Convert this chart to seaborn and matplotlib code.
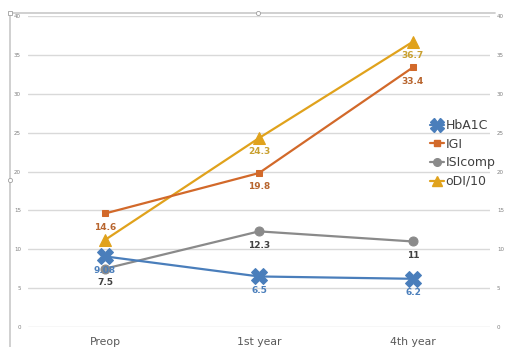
import matplotlib
matplotlib.use("Agg")
import matplotlib.pyplot as plt
from matplotlib.lines import Line2D
import seaborn as sns
import pandas as pd

categories = ["Preop", "1st year", "4th year"]
hba1c = [9.08, 6.5, 6.2]
igi = [14.6, 19.8, 33.4]
isicomp = [7.5, 12.3, 11]
odi10 = [11.2, 24.3, 36.7]
series_names = ["HbA1C", "IGI", "ISIcomp", "oDI/10"]
yticks = [0, 5, 10, 15, 20, 25, 30, 35, 40]

values = {"HbA1C": hba1c, "IGI": igi, "ISIcomp": isicomp, "oDI/10": odi10}
rows = []
for name in series_names:
    for i, c in enumerate(categories):
        rows.append({"series": name, "cat": c, "pos": i, "value": values[name][i]})
df = pd.DataFrame(rows)

sns.set_theme(style="white")
plt.rcParams['font.family'] = ['DejaVu Sans']

colors = {"HbA1C": "#4A7EBB", "IGI": "#D2692A", "ISIcomp": "#8A8A8A", "oDI/10": "#E0A21C"}
label_colors = {"HbA1C": "#4A7EBB", "IGI": "#B8652E", "ISIcomp": "#404040", "oDI/10": "#C9A030"}
markers = {"HbA1C": "X", "IGI": "s", "ISIcomp": "o", "oDI/10": "^"}
msizes = {"HbA1C": 11, "IGI": 5, "ISIcomp": 6.5, "oDI/10": 8.5}
leg_msizes = {"HbA1C": 9.5, "IGI": 4.5, "ISIcomp": 5.5, "oDI/10": 6.5}
show_label = {"HbA1C": [True, True, True], "IGI": [True, True, True],
              "ISIcomp": [True, True, True], "oDI/10": [False, True, True]}

W, H = 505, 347
fig = plt.figure(figsize=(W / 100, H / 100), dpi=100)
fig.patch.set_facecolor("white")
ax = fig.add_axes([28 / W, (H - 327) / H, (490 - 28) / W, (327 - 16) / H])

draw_order = ["ISIcomp", "oDI/10", "IGI", "HbA1C"]
for name in draw_order:
    sub = df[df.series == name]
    sns.lineplot(data=sub, x="pos", y="value", ax=ax, color=colors[name],
                 marker=markers[name], markersize=msizes[name], linewidth=1.6,
                 markeredgecolor=colors[name], sort=False, legend=False, zorder=3)
    for i, v in enumerate(values[name]):
        if show_label[name][i]:
            ax.annotate(f"{v:g}", xy=(i, v), xytext=(0, -10), textcoords="offset points",
                        ha="center", va="center", fontsize=6.5, fontweight="bold",
                        color=label_colors[name], zorder=5)

ax.set_xlim(-0.5, 2.5)
ax.set_ylim(0, 40)
ax.set_xticks(range(len(categories)))
ax.set_xticklabels(categories, fontsize=7.8, color="#595959")
ax.set_yticks(yticks)
ax.set_yticklabels([str(t) for t in yticks], fontsize=4, color="#7F7F7F")
ax.tick_params(axis="x", length=0, pad=7.5)
ax.tick_params(axis="y", length=0, pad=5)
ax.set_xlabel("")
ax.set_ylabel("")
for s in ax.spines.values():
    s.set_visible(False)
ax.yaxis.grid(True, color="#D9D9D9", linewidth=1.0)
ax.xaxis.grid(False)
ax.set_axisbelow(True)

ax2 = ax.twinx()
ax2.set_ylim(0, 40)
ax2.set_yticks(yticks)
ax2.set_yticklabels([str(t) for t in yticks], fontsize=4, color="#7F7F7F")
ax2.tick_params(axis="y", length=0, pad=5)
ax2.grid(False)
for s in ax2.spines.values():
    s.set_visible(False)

handles = [Line2D([0], [0], color=colors[n], marker=markers[n], markersize=leg_msizes[n],
                  linewidth=1.6, markeredgecolor=colors[n]) for n in series_names]
leg = fig.legend(handles, series_names, loc="upper left", bbox_to_anchor=(430 / W, (H - 119) / H),
                 frameon=False, fontsize=9, handlelength=1.1, handletextpad=0.15,
                 labelspacing=0.45, borderpad=0, borderaxespad=0)
for t in leg.get_texts():
    t.set_color("#404040")

# outer chart-area frame
fc = "#C8C8C8"
fig.add_artist(Line2D([10 / W, 495 / W], [(H - 13) / H] * 2, color=fc, linewidth=1.2, transform=fig.transFigure))
fig.add_artist(Line2D([10 / W] * 2, [(H - 13) / H, 0], color=fc, linewidth=1.2, transform=fig.transFigure))
fig.add_artist(Line2D([258 / W], [(H - 13) / H], marker="o", markersize=3, markerfacecolor="white",
                      markeredgecolor="#A0A0A0", markeredgewidth=0.6, transform=fig.transFigure))
fig.add_artist(Line2D([10 / W], [(H - 180) / H], marker="o", markersize=3, markerfacecolor="white",
                      markeredgecolor="#A0A0A0", markeredgewidth=0.6, transform=fig.transFigure))
fig.add_artist(Line2D([10 / W], [(H - 13) / H], marker="s", markersize=2.5, markerfacecolor="white",
                      markeredgecolor="#A0A0A0", markeredgewidth=0.6, transform=fig.transFigure))

fig.savefig("out.png", dpi=100, facecolor="white")
